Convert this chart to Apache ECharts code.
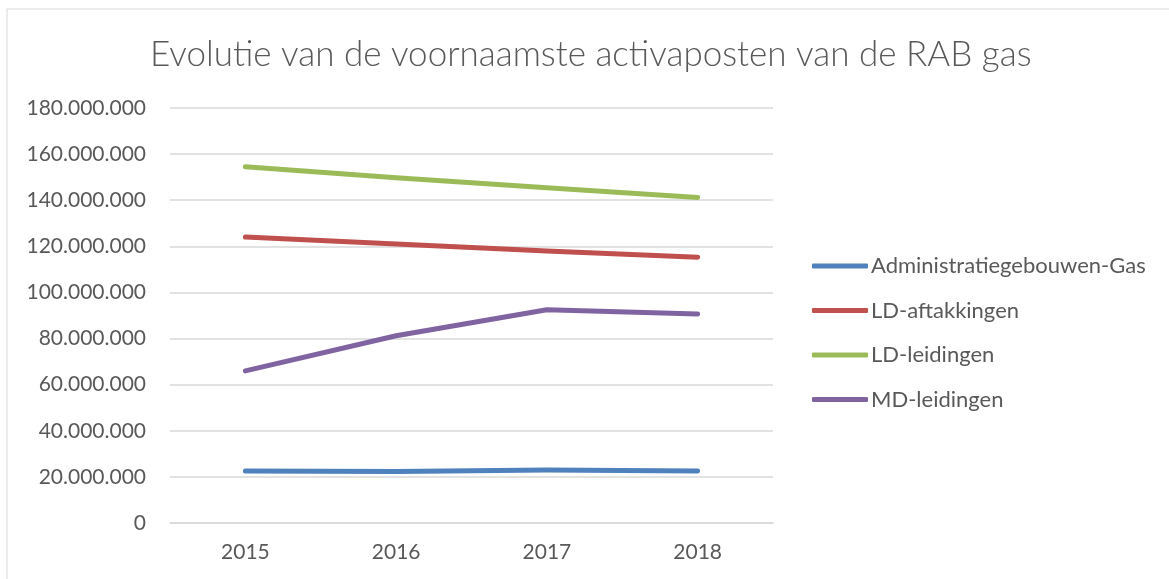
<!DOCTYPE html>
<html>
<head>
<meta charset="utf-8">
<script src="https://cdn.jsdelivr.net/npm/echarts@6/dist/echarts.min.js"></script>
<style>
  html, body { margin: 0; padding: 0; background: #fff; }
  #chart { width: 1169px; height: 579px; }
</style>
</head>
<body>
<div id="chart"></div>
<script>
// jaren op de x-as
var years = ["2015", "2016", "2017", "2018"];
// waarden per activapost (euro)
var adminGebouwen = [22600000, 22300000, 23000000, 22600000];
var ldAftakkingen = [124000000, 121000000, 118000000, 115300000];
var ldLeidingen = [154500000, 149700000, 145400000, 141200000];
var mdLeidingen = [66000000, 81200000, 92500000, 90600000];

var seriesNames = ["Administratiegebouwen-Gas", "LD-aftakkingen", "LD-leidingen", "MD-leidingen"];
var seriesColors = ["#4f81bd", "#c0504d", "#9bbb59", "#8064a2"];
var seriesData = [adminGebouwen, ldAftakkingen, ldLeidingen, mdLeidingen];

var FONT = "Lato, 'Open Sans', sans-serif";
var TXT = "#595959";

// 180000000 -> 180.000.000
function dots(v) {
  return String(v).replace(/\B(?=(\d{3})+(?!\d))/g, ".");
}

var chart = echarts.init(document.getElementById("chart"));
chart.setOption({
  animation: false,
  backgroundColor: "#fff",
  title: {
    text: "Evolutie van de voornaamste activaposten van de RAB gas",
    left: 145,
    top: 32,
    textStyle: { fontFamily: FONT, fontWeight: 300, fontSize: 35, color: TXT }
  },
  graphic: [{
    type: "rect",
    shape: { x: 7, y: 9, width: 1200, height: 620 },
    style: { fill: "none", stroke: "#d9d9d9", lineWidth: 1 },
    silent: true
  }],
  legend: {
    orient: "vertical",
    left: 807,
    top: 250,
    itemWidth: 56,
    itemHeight: 5,
    itemGap: 22.5,
    icon: "roundRect",
    textStyle: { fontFamily: FONT, fontSize: 22, color: TXT, padding: [0, 0, 0, -2] },
    data: seriesNames
  },
  grid: { left: 170, right: 396, top: 108, bottom: 56, containLabel: false },
  xAxis: {
    type: "category",
    data: years,
    boundaryGap: true,
    axisLine: { lineStyle: { color: "#d9d9d9", width: 1.5 } },
    axisTick: { show: false },
    axisLabel: { fontFamily: FONT, fontSize: 21, color: TXT, margin: 19 }
  },
  yAxis: {
    type: "value",
    min: 0,
    max: 180000000,
    interval: 20000000,
    axisLine: { show: false },
    axisTick: { show: false },
    splitLine: { lineStyle: { color: "#d9d9d9", width: 1.5 } },
    axisLabel: { fontFamily: FONT, fontSize: 21, color: TXT, margin: 24, formatter: dots }
  },
  series: seriesData.map(function (d, i) {
    return {
      name: seriesNames[i],
      type: "line",
      data: d,
      symbol: "none",
      color: seriesColors[i],
      lineStyle: { width: 5, color: seriesColors[i], cap: "round", join: "round" }
    };
  })
});
</script>
</body>
</html>
